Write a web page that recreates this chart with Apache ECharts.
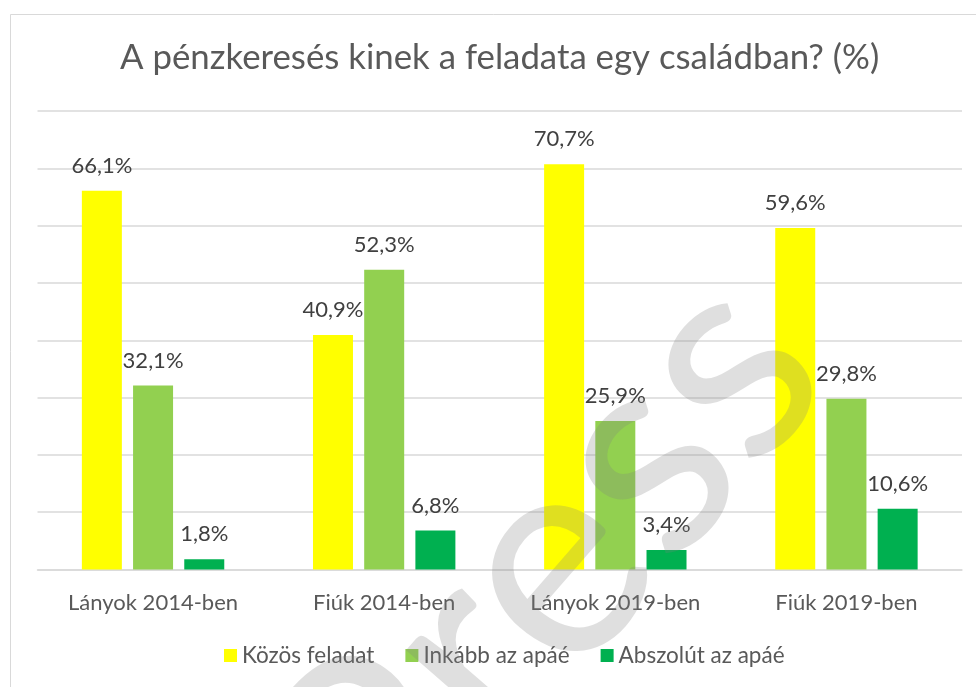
<!DOCTYPE html>
<html>
<head>
<meta charset="utf-8">
<title>A pénzkeresés kinek a feladata egy családban?</title>
<script src="https://cdn.jsdelivr.net/npm/echarts@6/dist/echarts.min.js"></script>
<style>
  html, body { margin: 0; padding: 0; background: #fff; }
  #chart { width: 976px; height: 687px; }
</style>
</head>
<body>
<div id="chart"></div>
<script>
// adatok
var categories = ['Lányok 2014-ben', 'Fiúk 2014-ben', 'Lányok 2019-ben', 'Fiúk 2019-ben'];
var seriesNames = ['Közös feladat', 'Inkább az apáé', 'Abszolút az apáé'];
var kozos = [66.1, 40.9, 70.7, 59.6];
var inkabb = [32.1, 52.3, 25.9, 29.8];
var abszolut = [1.8, 6.8, 3.4, 10.6];
var colors = ['#FFFF00', '#92D050', '#00B050'];
var yTicks = [0, 10, 20, 30, 40, 50, 60, 70, 80];

var font = 'Lato';

function pct(p) {
  return p.value.toFixed(1).replace('.', ',') + '%';
}

function bar(name, data, color) {
  return {
    name: name,
    type: 'bar',
    data: data,
    barWidth: 40,
    barGap: '28%',
    itemStyle: { color: color },
    label: {
      show: true,
      position: 'top',
      distance: 14,
      formatter: pct,
      color: '#404040',
      fontFamily: font,
      fontSize: 22
    }
  };
}

var chart = echarts.init(document.getElementById('chart'));

var option = {
  animation: false,
  backgroundColor: '#fff',
  title: {
    text: 'A pénzkeresés kinek a feladata egy családban? (%)',
    left: 115,
    top: 35,
    textStyle: {
      color: '#595959',
      fontFamily: font,
      fontSize: 34.8,
      fontWeight: 'normal'
    }
  },
  legend: {
    data: seriesNames,
    left: 224,
    top: 644,
    padding: 0,
    itemWidth: 13,
    itemHeight: 13,
    itemGap: 31,
    icon: 'rect',
    textStyle: { color: '#595959', fontFamily: font, fontSize: 22.5 }
  },
  grid: { left: 37.5, right: 14, top: 111, bottom: 117.5 },
  xAxis: {
    type: 'category',
    data: categories,
    axisLine: { lineStyle: { color: '#d9d9d9', width: 1.5 } },
    axisTick: { show: false },
    axisLabel: { color: '#595959', fontFamily: font, fontSize: 22, margin: 22 }
  },
  yAxis: {
    type: 'value',
    min: yTicks[0],
    max: yTicks[yTicks.length - 1],
    interval: yTicks[1] - yTicks[0],
    axisLabel: { show: false },
    axisLine: { show: false },
    axisTick: { show: false },
    splitLine: { lineStyle: { color: '#d9d9d9', width: 1.5 } }
  },
  graphic: [
    {
      type: 'rect',
      left: 8,
      top: 12,
      shape: { width: 1000, height: 700 },
      style: { fill: 'none', stroke: '#d9d9d9', lineWidth: 1 },
      z: -1
    },
    {
      // vízjel
      type: 'text',
      x: 521,
      y: 600,
      rotation: 49 * Math.PI / 180,
      style: {
        text: 'lPress',
        fill: 'rgba(128,128,128,0.25)',
        font: '292px Lato',
        align: 'center',
        verticalAlign: 'middle'
      },
      z: 100
    }
  ],
  series: [
    bar(seriesNames[0], kozos, colors[0]),
    bar(seriesNames[1], inkabb, colors[1]),
    bar(seriesNames[2], abszolut, colors[2])
  ]
};

chart.setOption(option);
</script>
</body>
</html>
